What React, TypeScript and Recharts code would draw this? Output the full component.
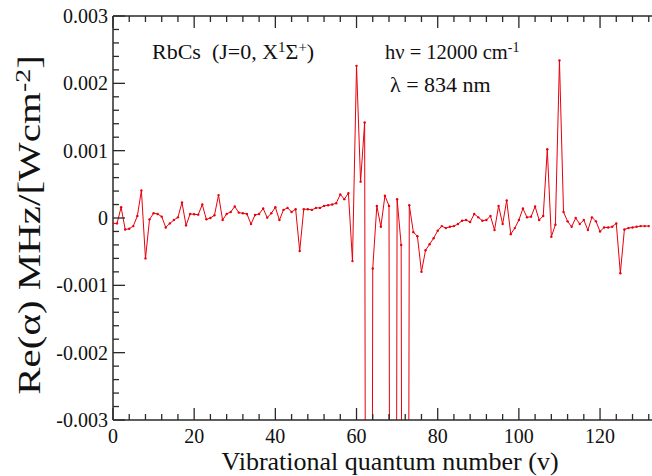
import React from 'react';
import { LineChart, Line, XAxis, YAxis } from 'recharts';

// Re(alpha) in MHz/(W cm^-2) for vibrational levels v = 0 .. 132
const reAlpha: number[] = [
  -0.00008, -0.00008, 0.00016, -0.00017, -0.00016, -0.00012, 0.00003, 0.00041, -0.0006, -0.00002,
  0.00007, 0.00006, 0.00002, -0.00014, -0.00008, -0.00003, 0.00001, 0.00023, -0.00011, 0.00006,
  0.000055, 0.00005, 0.0002, -0.00002, 0.0, 0.00004, 0.00034, -0.00003, 0.00006, 0.00009,
  0.00017, 0.00008, 0.00007, 0.00006, -0.00009, 0.000045, 0.00006, 0.00014, 0.000005, 0.00007,
  0.00016, -0.00003, 0.00012, 0.00015, 0.00009, 0.00013, -0.00049, 0.00013, 0.00013, 0.00012,
  0.00015, 0.00015, 0.00018, 0.00019, 0.0002, 0.00022, 0.00035, 0.00028, 0.00037, -0.00064,
  0.00226, 0.00054, 0.00142, -0.03, -0.00075, 0.00018, -0.00013, 0.00033, 0.00018, -0.03,
  0.00028, -0.0004, -0.03, 0.00019, -0.00021, -0.00027, -0.0008, -0.00048, -0.00039, -0.0003,
  -0.00019, -0.00012, -0.00015, -0.00013, -0.00012, -0.00009, -0.00004, -0.00003, -0.00006, 0.00006,
  0.00001, -0.00004, -0.00003, 0.00003, -0.00018, 0.00018, -0.00009, 0.00026, -0.00024, -0.00015,
  -0.00003, 0.00014, 0.00001, 0.00002, 0.00017, -0.00003, 0.00003, 0.00102, -0.00028, -0.0001,
  0.00234, 0.00009, -0.00005, -0.00013, 0.0, -0.00009, -0.00003, -0.00018, 0.00001, -0.00005,
  -0.0002, -0.00014, -0.00014, -0.00013, -0.00008, -0.00082, -0.00017, -0.00015, -0.00014, -0.00013,
  -0.00012, -0.00012, -0.00012,
];

const xMajorTicks = [0, 20, 40, 60, 80, 100, 120];
const xMajorLabels = ['0', '20', '40', '60', '80', '100', '120'];
const xMinorTicks = [
  4, 8, 12, 16, 24, 28, 32, 36, 44, 48, 52, 56, 64, 68, 72, 76, 84, 88, 92, 96, 104, 108, 112, 116, 124, 128, 132,
];
const yMajorTicks = [-0.003, -0.002, -0.001, 0, 0.001, 0.002, 0.003];
const yMajorLabels = ['-0.003', '-0.002', '-0.001', '0', '0.001', '0.002', '0.003'];
const yMinorTicks = [
  -0.0028, -0.0026, -0.0024, -0.0022, -0.0018, -0.0016, -0.0014, -0.0012, -0.0008, -0.0006, -0.0004,
  -0.0002, 0.0002, 0.0004, 0.0006, 0.0008, 0.0012, 0.0014, 0.0016, 0.0018, 0.0022, 0.0024, 0.0026, 0.0028,
];

const data = reAlpha.map((val, v) => ({ v, val }));

const FONT = '"Liberation Serif", "Times New Roman", Times, serif';
const AXIS = '#2a2a2a';
const RED = '#e8000b';

const allX = [...xMajorTicks, ...xMinorTicks].sort((a, b) => a - b);
const allY = [...yMajorTicks, ...yMinorTicks].sort((a, b) => a - b);

const majorIndex = (list: number[], v: number) => list.findIndex((m) => Math.abs(m - v) < 1e-9);

const YTick = (props: any) => {
  const { x, y, payload } = props;
  const idx = majorIndex(yMajorTicks, payload.value);
  const ax = x + 5;
  return (
    <g>
      <line x1={ax} x2={ax + (idx >= 0 ? 12 : 6)} y1={y} y2={y} stroke={AXIS} strokeWidth={1.3} />
      {idx >= 0 && (
        <text x={x} y={y} dy="0.35em" textAnchor="end" fontSize={20} fontFamily={FONT} fill="#111">
          {yMajorLabels[idx]}
        </text>
      )}
    </g>
  );
};

const XTick = (props: any) => {
  const { x, y, payload } = props;
  const idx = majorIndex(xMajorTicks, payload.value);
  const ay = y - 8;
  return (
    <g>
      <line x1={x} x2={x} y1={ay} y2={ay - (idx >= 0 ? 12 : 6)} stroke={AXIS} strokeWidth={1.3} />
      {idx >= 0 && (
        <text x={x} y={y} dy="0.75em" textAnchor="middle" fontSize={20} fontFamily={FONT} fill="#111">
          {xMajorLabels[idx]}
        </text>
      )}
    </g>
  );
};

const TopTick = (props: any) => {
  const { x, y, payload } = props;
  const idx = majorIndex(xMajorTicks, payload.value);
  return <line x1={x} x2={x} y1={y} y2={y + (idx >= 0 ? 12 : 6)} stroke={AXIS} strokeWidth={1.3} />;
};

const sup: React.CSSProperties = { fontSize: '0.68em', position: 'relative', top: '-0.5em' };

const note: React.CSSProperties = {
  position: 'absolute', fontFamily: FONT, fontSize: 22, lineHeight: 1, whiteSpace: 'nowrap', color: '#111',
};

export default function App() {
  return (
    <div style={{ position: 'absolute', left: 0, top: 0, width: 652, height: 476, background: '#fff' }}>
      <LineChart width={652} height={476} data={data} margin={{ top: 0, right: 0, bottom: 0, left: 0 }}>
        <XAxis
          xAxisId="top"
          orientation="top"
          type="number"
          dataKey="v"
          domain={[0, 132.8]}
          allowDataOverflow
          ticks={allX}
          interval={0}
          height={16}
          tickSize={0}
          tickMargin={0}
          tickLine={false}
          axisLine={{ stroke: AXIS, strokeWidth: 1.5 }}
          tick={<TopTick />}
        />
        <XAxis
          type="number"
          dataKey="v"
          domain={[0, 132.8]}
          allowDataOverflow
          ticks={allX}
          interval={0}
          height={56}
          tickSize={0}
          tickMargin={8}
          tickLine={false}
          axisLine={{ stroke: AXIS, strokeWidth: 1.5 }}
          tick={<XTick />}
        />
        <YAxis
          type="number"
          domain={[-0.003, 0.003]}
          allowDataOverflow
          ticks={allY}
          interval={0}
          width={113}
          tickSize={0}
          tickMargin={5}
          tickLine={false}
          axisLine={{ stroke: AXIS, strokeWidth: 1.5 }}
          tick={<YTick />}
        />
        <Line
          type="linear"
          dataKey="val"
          stroke={RED}
          strokeWidth={1}
          dot={{ r: 1.2, fill: RED, stroke: 'none' }}
          activeDot={false}
          isAnimationActive={false}
        />
        <Line
          xAxisId="top"
          type="linear"
          dataKey="val"
          stroke="none"
          dot={false}
          activeDot={false}
          legendType="none"
          isAnimationActive={false}
        />
      </LineChart>

      <div style={{ ...note, left: 152, top: 41 }}>
        RbCs&nbsp;&nbsp;(J=0, X<span style={sup}>1</span>Σ<span style={sup}>+</span>)
      </div>
      <div style={{ ...note, left: 385, top: 42, fontSize: 20.5 }}>
        hν = 12000 cm<span style={sup}>-1</span>
      </div>
      <div style={{ ...note, left: 390, top: 74 }}>λ = 834 nm</div>
      <div
        style={{
          position: 'absolute', left: 390, top: 462, transform: 'translate(-50%, -50%)', fontFamily: FONT,
          fontSize: 26, lineHeight: 1, whiteSpace: 'nowrap', color: '#111',
        }}
      >
        Vibrational quantum number (v)
      </div>
      <div
        style={{
          position: 'absolute', left: 30, top: 225,
          transform: 'translate(-50%, -50%) scale(0.75, 1) rotate(-90deg)',
          fontFamily: FONT, fontSize: 41, lineHeight: 1, whiteSpace: 'nowrap', color: '#111',
        }}
      >
        Re(α) MHz/[Wcm<span style={sup}>-2</span>]
      </div>
    </div>
  );
}
